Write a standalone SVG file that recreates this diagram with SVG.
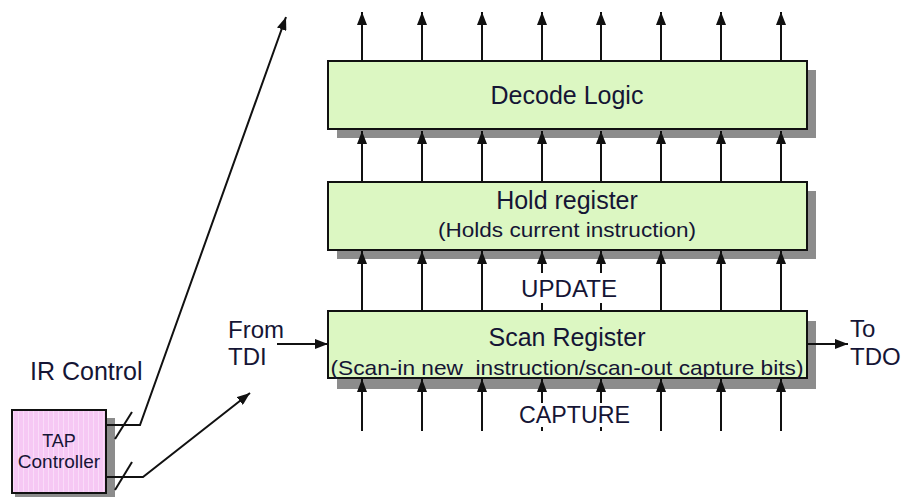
<svg xmlns="http://www.w3.org/2000/svg" width="906" height="497" viewBox="0 0 906 497">
  <style>
    .box { fill: #dcf7c2; stroke: #111; stroke-width: 2; }
    .shadow { fill: #8c8c8c; }
    .tap { fill: url(#pinkStripes); stroke: #111; stroke-width: 2; }
    .wire { stroke: #111; stroke-width: 2; fill: none; }
    .arrow { stroke: #111; stroke-width: 2; fill: none; marker-end: url(#head); }
    text { font-family: "Liberation Sans", Arial, sans-serif; fill: #151535; }
    .mid { text-anchor: middle; }
  </style>
  <defs>
    <marker id="head" viewBox="0 0 13 10" markerWidth="13" markerHeight="10" refX="13" refY="5" orient="auto" markerUnits="userSpaceOnUse">
      <path d="M0,0 L13,5 L0,10 z" fill="#111"/>
    </marker>
    <pattern id="pinkStripes" width="5" height="10" patternUnits="userSpaceOnUse">
      <rect width="5" height="10" fill="#f6c8f4"/>
      <rect x="3" width="1" height="10" fill="#fadcf9"/>
    </pattern>
  </defs>

  <!-- Decode logic block -->
  <g id="decode-logic">
    <rect class="shadow" x="337" y="70" width="479" height="68"/>
    <rect class="box" x="328" y="61" width="479" height="68"/>
    <text class="mid" x="567" y="104" font-size="25">Decode Logic</text>
  </g>

  <!-- Hold register -->
  <g id="hold-register">
    <rect class="shadow" x="337" y="191" width="479" height="68"/>
    <rect class="box" x="328" y="182" width="479" height="68"/>
    <text class="mid" x="567" y="209" font-size="25">Hold register</text>
    <text class="mid" x="567" y="237" font-size="20" textLength="258" lengthAdjust="spacingAndGlyphs">(Holds current instruction)</text>
  </g>

  <!-- Scan register -->
  <g id="scan-register">
    <rect class="shadow" x="337" y="321" width="479" height="68"/>
    <rect class="box" x="328" y="311" width="479" height="67"/>
    <text class="mid" x="567" y="346" font-size="25">Scan Register</text>
    <text class="mid" x="567" y="375" font-size="21" textLength="473" lengthAdjust="spacingAndGlyphs" xml:space="preserve" style="white-space:pre">(Scan-in new  instruction/scan-out capture bits)</text>
  </g>

  <!-- TAP controller -->
  <g id="tap-controller">
    <rect class="shadow" x="15" y="418" width="100" height="85"/>
    <rect class="tap" x="12" y="410" width="94" height="83"/>
    <text class="mid" x="59" y="447" font-size="18">TAP</text>
    <text class="mid" x="59" y="468" font-size="19">Controller</text>
  </g>

  <!-- Free labels -->
  <g id="labels">
    <text x="30" y="380" font-size="25">IR Control</text>
    <text x="228" y="338" font-size="24">From</text>
    <text x="228" y="365" font-size="24">TDI</text>
    <text x="850" y="337" font-size="24">To</text>
    <text x="850" y="365" font-size="24">TDO</text>
  </g>

  <g id="connectors">
    <!-- decode outputs -->
    <line class="arrow" x1="362" y1="61" x2="362" y2="12"/>
    <line class="arrow" x1="422" y1="61" x2="422" y2="12"/>
    <line class="arrow" x1="482" y1="61" x2="482" y2="12"/>
    <line class="arrow" x1="542" y1="61" x2="542" y2="12"/>
    <line class="arrow" x1="601" y1="61" x2="601" y2="12"/>
    <line class="arrow" x1="661" y1="61" x2="661" y2="12"/>
    <line class="arrow" x1="721" y1="61" x2="721" y2="12"/>
    <line class="arrow" x1="781" y1="61" x2="781" y2="12"/>

    <!-- hold register to decode logic -->
    <line class="arrow" x1="362" y1="182" x2="362" y2="131"/>
    <line class="arrow" x1="422" y1="182" x2="422" y2="131"/>
    <line class="arrow" x1="482" y1="182" x2="482" y2="131"/>
    <line class="arrow" x1="542" y1="182" x2="542" y2="131"/>
    <line class="arrow" x1="601" y1="182" x2="601" y2="131"/>
    <line class="arrow" x1="661" y1="182" x2="661" y2="131"/>
    <line class="arrow" x1="721" y1="182" x2="721" y2="131"/>
    <line class="arrow" x1="781" y1="182" x2="781" y2="131"/>

    <!-- scan register to hold register (UPDATE) -->
    <line class="arrow" x1="362" y1="311" x2="362" y2="251"/>
    <line class="arrow" x1="422" y1="311" x2="422" y2="251"/>
    <line class="arrow" x1="482" y1="311" x2="482" y2="251"/>
    <line class="arrow" x1="542" y1="273" x2="542" y2="251"/>
    <line class="wire" x1="542" y1="311" x2="542" y2="303"/>
    <line class="arrow" x1="601" y1="273" x2="601" y2="251"/>
    <line class="wire" x1="601" y1="311" x2="601" y2="303"/>
    <line class="arrow" x1="661" y1="311" x2="661" y2="251"/>
    <line class="arrow" x1="721" y1="311" x2="721" y2="251"/>
    <line class="arrow" x1="781" y1="311" x2="781" y2="251"/>
    <text x="521" y="297" font-size="23" textLength="96" lengthAdjust="spacingAndGlyphs">UPDATE</text>

    <!-- capture inputs -->
    <line class="arrow" x1="362" y1="431" x2="362" y2="379"/>
    <line class="arrow" x1="422" y1="431" x2="422" y2="379"/>
    <line class="arrow" x1="482" y1="431" x2="482" y2="379"/>
    <line class="arrow" x1="542" y1="403" x2="542" y2="379"/>
    <line class="wire" x1="542" y1="431" x2="542" y2="427"/>
    <line class="arrow" x1="601" y1="403" x2="601" y2="379"/>
    <line class="wire" x1="601" y1="431" x2="601" y2="427"/>
    <line class="arrow" x1="661" y1="431" x2="661" y2="379"/>
    <line class="arrow" x1="721" y1="431" x2="721" y2="379"/>
    <line class="arrow" x1="781" y1="431" x2="781" y2="379"/>
    <text x="519" y="423" font-size="23" textLength="111" lengthAdjust="spacingAndGlyphs">CAPTURE</text>

    <!-- serial path -->
    <line class="arrow" x1="277" y1="344" x2="328" y2="344"/>
    <line class="arrow" x1="807" y1="344" x2="848" y2="344"/>

    <!-- IR control buses from the TAP controller -->
    <polyline class="arrow" points="106,425 140,425 286,17"/>
    <polyline class="arrow" points="106,477 143,477 250,393"/>
    <line class="wire" x1="115" y1="439" x2="132" y2="412"/>
    <line class="wire" x1="115" y1="490" x2="132" y2="462"/>
  </g>
</svg>
